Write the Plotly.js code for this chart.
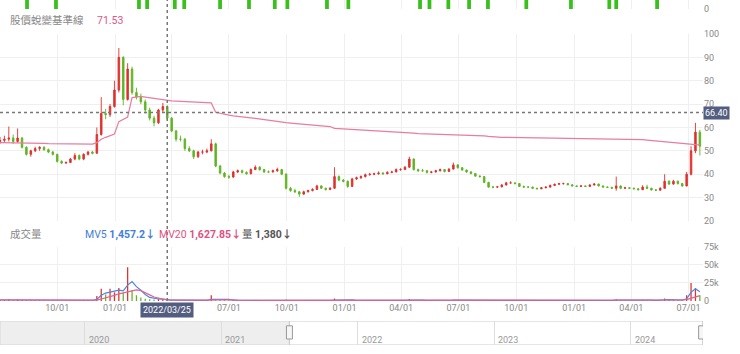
<!DOCTYPE html>
<html><head><meta charset="utf-8">
<script src="https://cdn.plot.ly/plotly-3.0.1.min.js"></script>
<style>html,body{margin:0;padding:0;background:#fff;}#chart{width:740px;height:354px;}</style>
</head><body><div id="chart"></div>
<script>
// ---- DATA (weekly samples) ----
const dates = [
'2021-07-02','2021-07-09','2021-07-16','2021-07-23','2021-07-30','2021-08-06','2021-08-13','2021-08-20','2021-08-27','2021-09-03',
'2021-09-10','2021-09-17','2021-09-24','2021-10-01','2021-10-08','2021-10-15','2021-10-22','2021-10-29','2021-11-05','2021-11-12',
'2021-11-19','2021-11-26','2021-12-03','2021-12-10','2021-12-17','2021-12-24','2021-12-31',
'2022-01-07','2022-01-14','2022-01-21','2022-01-28','2022-02-04','2022-02-11','2022-02-18','2022-02-25','2022-03-04','2022-03-11',
'2022-03-18','2022-03-25','2022-04-01','2022-04-08','2022-04-15','2022-04-22','2022-04-29','2022-05-06','2022-05-13','2022-05-20',
'2022-05-27','2022-06-03','2022-06-10','2022-06-17','2022-06-24','2022-07-01','2022-07-08','2022-07-15','2022-07-22','2022-07-29',
'2022-08-05','2022-08-12','2022-08-19','2022-08-26','2022-09-02','2022-09-09','2022-09-16','2022-09-23','2022-09-30','2022-10-07',
'2022-10-14','2022-10-21','2022-10-28','2022-11-04','2022-11-11','2022-11-18','2022-11-25','2022-12-02','2022-12-09','2022-12-16',
'2022-12-23','2022-12-30',
'2023-01-06','2023-01-13','2023-01-20','2023-01-27','2023-02-03','2023-02-10','2023-02-17','2023-02-24','2023-03-03','2023-03-10',
'2023-03-17','2023-03-24','2023-03-31','2023-04-07','2023-04-14','2023-04-21','2023-04-28','2023-05-05','2023-05-12','2023-05-19',
'2023-05-26','2023-06-02','2023-06-09','2023-06-16','2023-06-23','2023-06-30','2023-07-07','2023-07-14','2023-07-21','2023-07-28',
'2023-08-04','2023-08-11','2023-08-18','2023-08-25','2023-09-01','2023-09-08','2023-09-15','2023-09-22','2023-09-29','2023-10-06',
'2023-10-13','2023-10-20','2023-10-27','2023-11-03','2023-11-10','2023-11-17','2023-11-24','2023-12-01','2023-12-08','2023-12-15',
'2023-12-22','2023-12-29',
'2024-01-05','2024-01-12','2024-01-19','2024-01-26','2024-02-02','2024-02-09','2024-02-16','2024-02-23','2024-03-01','2024-03-08',
'2024-03-15','2024-03-22','2024-03-29','2024-04-05','2024-04-12','2024-04-19','2024-04-26','2024-05-03','2024-05-10','2024-05-17',
'2024-05-24','2024-05-31','2024-06-07','2024-06-14','2024-06-21','2024-06-28','2024-07-05','2024-07-12','2024-07-19'
];
const openP = [
54.0,54.5,55.0,55.5,54.0,55.5,51.5,48.5,50.0,51.0,
51.5,50.5,49.5,48.5,45.5,44.8,45.0,46.5,48.0,46.5,
48.5,49.5,49.0,57.0,66.0,65.5,69.0,76.0,90.0,72.0,
85.0,75.0,73.0,71.0,67.5,64.0,62.0,67.5,69.0,64.0,
58.5,55.0,55.0,51.0,50.0,47.5,49.5,49.5,50.0,53.0,
43.5,40.5,39.0,38.8,41.0,41.5,40.8,40.2,42.0,43.0,
42.0,41.0,41.0,41.5,42.0,40.0,34.0,33.0,32.5,31.5,
32.5,33.0,33.5,35.0,34.0,33.5,34.0,39.0,37.5,37.0,
34.8,38.0,38.5,39.0,39.8,40.0,40.2,40.5,40.2,40.8,
41.0,42.0,42.0,43.0,46.5,42.0,41.5,41.5,40.8,41.0,
41.5,42.0,41.2,42.2,44.0,42.8,41.8,41.0,40.3,39.2,
39.0,36.5,34.5,34.5,34.6,35.4,36.3,36.3,36.0,34.8,
34.5,34.5,34.0,33.8,34.2,34.5,35.2,35.7,36.0,36.0,
35.5,35.0,34.8,35.0,34.8,35.4,35.8,35.0,34.5,34.4,
34.0,35.0,34.0,34.2,34.0,33.8,33.4,34.5,34.0,33.3,
33.2,34.0,37.0,35.8,37.0,36.0,35.0,40.0,50.0,58.0
];
const highP = [
56.0,56.5,60.4,57.0,59.6,56.0,52.0,50.5,51.8,52.0,
52.0,51.0,50.0,48.8,46.0,45.5,47.0,49.0,48.5,49.0,
50.0,50.0,60.0,73.0,68.0,70.0,80.0,94.0,90.5,87.5,
86.0,77.0,74.5,72.0,68.5,65.0,68.0,70.5,69.5,64.5,
59.0,56.5,55.5,52.0,50.5,50.0,50.5,51.0,55.0,53.5,
44.0,41.0,39.8,41.5,42.0,42.0,41.2,42.5,43.8,43.5,
42.3,41.6,42.0,42.8,42.3,40.5,34.6,33.8,32.8,33.0,
33.4,34.0,35.5,35.3,34.3,34.5,43.0,39.5,38.0,37.3,
38.5,39.0,39.5,40.3,40.6,40.7,41.2,40.9,41.3,41.5,
42.5,42.6,43.5,47.5,46.8,42.4,42.3,41.8,41.4,41.9,
42.4,42.2,42.6,45.0,44.3,43.1,42.0,41.3,40.5,39.6,
39.2,36.8,35.0,35.0,35.8,36.8,37.0,36.6,36.2,35.1,
34.9,34.7,34.2,34.5,34.8,35.6,36.0,36.3,36.4,36.2,
35.7,35.2,35.3,35.2,35.7,36.2,36.0,35.2,34.8,34.6,
39.0,35.2,34.6,34.5,34.3,34.0,35.3,35.5,34.2,33.6,
34.4,40.0,37.4,37.6,37.3,36.3,41.0,52.0,62.0,59.0
];
const lowP = [
53.0,53.5,54.0,53.0,53.5,51.0,48.0,47.5,49.5,50.0,
50.0,49.0,48.0,45.0,44.3,44.5,44.8,46.0,46.0,46.0,
48.0,48.5,48.8,56.5,63.5,64.5,68.5,75.0,69.5,71.5,
74.0,72.0,70.0,66.0,63.0,60.5,61.5,66.5,63.0,58.0,
54.0,54.0,50.0,49.5,46.5,47.0,48.5,49.0,49.8,43.0,
40.0,38.5,38.0,38.5,40.5,40.3,39.8,40.0,41.8,41.5,
40.6,40.5,40.7,41.0,39.6,33.5,32.5,32.0,30.3,31.2,
32.2,32.7,33.3,33.7,33.0,33.2,33.8,37.0,36.5,34.2,
34.5,37.6,38.0,38.6,39.4,39.6,39.8,39.8,40.0,40.4,
40.8,41.5,41.8,42.8,41.6,41.0,41.1,40.3,40.4,40.7,
41.2,40.8,41.0,42.0,42.4,41.5,40.6,40.0,38.9,38.6,
36.2,34.2,34.0,34.2,34.4,35.2,36.0,35.7,34.5,34.2,
34.2,33.7,33.5,33.6,34.0,34.3,35.0,35.5,35.6,35.3,
34.8,34.5,34.6,34.5,34.6,35.2,34.8,34.3,34.1,33.7,
33.0,33.6,33.8,33.7,33.5,33.1,33.2,33.8,33.0,32.8,
33.0,33.8,35.4,35.5,35.6,34.6,34.8,39.5,49.0,48.0
];
const closeP = [
54.5,55.0,55.5,54.0,55.5,51.5,48.5,50.0,51.0,51.5,
50.5,49.5,48.5,45.5,44.8,45.0,46.5,48.0,46.5,48.5,
49.5,49.0,57.0,66.0,65.5,69.0,76.0,90.0,72.0,85.0,
75.0,73.0,71.0,67.5,64.0,62.0,67.5,69.0,64.0,58.5,
55.0,55.0,51.0,50.0,47.5,49.5,49.5,50.0,53.0,43.5,
40.5,39.0,38.8,41.0,41.5,40.8,40.2,42.0,43.0,42.0,
41.0,41.0,41.5,42.0,40.0,34.0,33.0,32.5,31.5,32.5,
33.0,33.5,35.0,34.0,33.5,34.0,39.0,37.5,37.0,34.8,
38.0,38.5,39.0,39.8,40.0,40.2,40.5,40.2,40.8,41.0,
42.0,42.0,43.0,46.5,42.0,41.5,41.5,40.8,41.0,41.5,
42.0,41.2,42.2,44.0,42.8,41.8,41.0,40.3,39.2,39.0,
36.5,34.5,34.5,34.6,35.4,36.3,36.3,36.0,34.8,34.5,
34.5,34.0,33.8,34.2,34.5,35.2,35.7,36.0,36.0,35.5,
35.0,34.8,35.0,34.8,35.4,35.8,35.0,34.5,34.4,34.0,
35.0,34.0,34.2,34.0,33.8,33.4,34.5,34.0,33.3,33.2,
34.0,37.0,35.8,37.0,36.0,35.0,40.0,50.0,58.0,52.0
];
// 股價蛻變基準線
const baseline = [
53.5,53.5,53.4,53.4,53.4,53.3,53.3,53.3,53.2,53.2,
53.2,53.1,53.1,53.1,53.1,53.0,53.0,53.0,53.0,52.9,
52.9,52.9,53.5,55.0,55.8,56.5,57.2,62.5,63.6,64.5,
72.8,73.2,73.3,73.0,72.7,72.4,72.1,71.8,71.53,71.4,
71.3,71.2,71.1,71.0,70.9,70.8,70.7,70.6,70.5,66.5,
66.0,65.6,65.3,65.0,64.7,64.5,64.3,64.1,63.9,63.6,
63.4,63.1,62.9,62.6,62.4,62.1,61.9,61.7,61.5,61.3,
61.1,60.9,60.8,60.6,60.5,60.4,59.6,59.5,59.4,59.3,
59.2,59.1,59.0,58.9,58.8,58.7,58.6,58.5,58.4,58.3,
58.2,58.1,58.0,58.0,57.6,57.4,57.35,57.3,57.25,57.2,
57.15,57.1,57.05,57.0,57.0,56.9,56.8,56.7,56.6,56.5,
56.4,56.2,56.0,55.9,55.8,55.78,55.75,55.73,55.7,55.68,
55.65,55.63,55.6,55.58,55.55,55.53,55.5,55.48,55.45,55.43,
55.4,55.38,55.36,55.34,55.32,55.3,55.3,55.25,55.2,55.15,
55.1,55.05,55.0,54.95,54.9,54.85,54.8,54.6,54.4,54.2,
54.0,53.8,53.6,53.4,53.2,53.0,52.85,52.7,52.65,52.6
];
const volume = [
1500,1300,2800,1200,2500,1400,1300,1000,900,1100,
900,800,900,1200,900,700,800,1000,800,900,
1000,1200,7000,17000,9000,17000,12000,18000,11000,47000,
15000,8000,5000,3000,2500,2000,3000,2500,1380,1200,
1300,1000,1100,900,1000,800,900,1000,8000,2500,
1800,1200,1000,1100,900,800,800,1000,1200,900,
800,700,800,900,900,2200,1500,1000,1100,900,
800,800,1000,800,700,700,3500,1500,1000,1100,
1200,900,900,1000,900,800,900,800,900,900,
1000,900,1200,2800,1500,900,800,700,800,800,
900,800,900,1800,1000,800,700,700,800,800,
1200,1000,800,700,800,900,900,700,800,700,
700,700,600,700,700,800,800,700,700,700,
700,600,700,600,800,800,700,600,600,600,
2500,900,700,600,600,600,1200,1500,800,700,
800,3500,1500,1200,1000,900,8000,25000,18000,8000
];
const mv5 = [
1400,1400,1700,1600,1800,1700,1600,1300,1200,1100,
1000,950,950,1000,950,900,850,900,900,950,
950,1050,2300,8000,11000,12000,13000,15000,14000,22000,
27000,20000,15000,9000,5000,3500,2800,2600,1457,1300,
1300,1200,1100,1000,1000,950,900,900,2400,2600,
2700,2600,2300,1200,1000,950,900,900,1000,950,
900,850,800,850,850,1200,1400,1400,1400,1300,
1000,950,900,850,800,750,1400,1600,1700,1600,
1500,1000,950,950,950,900,900,850,850,850,
900,900,950,1400,1600,1500,1300,900,800,800,
800,800,850,1100,1300,1200,1000,800,750,750,
850,900,900,800,750,800,850,800,780,750,
700,700,650,650,700,750,780,750,720,700,
700,650,650,650,700,750,750,680,620,600,
1100,1200,1100,800,650,600,800,1000,1100,900,
800,1500,1900,2000,1500,1200,3000,12000,17000,13000
];
const mv20 = [
1500,1500,1600,1600,1700,1700,1700,1600,1500,1400,
1300,1200,1100,1000,1000,950,950,900,900,900,
900,950,1300,2800,4300,6000,7800,10000,11500,13500,
15000,15500,14500,12000,8500,5500,3700,2600,1628,1500,
1400,1350,1300,1200,1100,1000,950,950,1300,1600,
1800,1900,1900,1700,1300,1100,1000,950,950,950,
950,900,900,900,850,950,1100,1200,1250,1250,
1150,1000,950,900,850,850,1000,1200,1300,1300,
1300,1200,1100,950,950,950,900,900,900,880,
880,880,900,1000,1150,1250,1250,1150,950,850,
830,820,820,900,1000,1050,1050,950,850,800,
820,850,870,860,830,820,820,810,800,780,
760,740,720,700,700,710,730,740,740,730,
720,700,690,680,680,700,720,720,700,680,
750,850,950,950,850,750,750,800,850,850,
850,1000,1300,1600,1700,1600,2000,4000,6000,7500
];
// bottom of the panel above (cut off in the reference)
const topDates = ['2021-08-14','2021-09-29','2022-02-08','2022-02-21','2022-04-06','2022-04-21','2022-06-17','2022-08-02',
'2022-09-12','2022-10-02','2022-12-04','2023-01-07','2023-05-01','2023-05-16','2023-06-15','2023-07-18','2023-08-17',
'2023-10-17','2023-12-27','2024-02-26','2024-03-08','2024-05-12'];
const topVals = [14,14,14,12,14,14,14,12,14,14,14,12,14,14,12,14,14,12,14,12,14,14];
const priceTicks = [20,30,40,50,60,70,80,90,100];
const volTickVals = [0,25000,50000,75000];
const volTickText = ['0','25k','50k','75k'];
const xTickVals = ['2021-10-01','2022-01-01','2022-04-01','2022-07-01','2022-10-01','2023-01-01','2023-04-01',
  '2023-07-01','2023-10-01','2024-01-01','2024-04-01','2024-07-01'];
const xTickText = ['10/01','01/01','','07/01','10/01','01/01','04/01','07/01','10/01','01/01','04/01','07/01'];
const navYears = ['2020','2021','2022','2023','2024'];
const navYearDates = ['2020-01-01','2021-01-01','2022-01-01','2023-01-01','2024-01-01'];
const crossDate = '2022-03-25';
const crossPrice = 66.40;
const readouts = {baseline:'71.53', mv5:'1,457.2↓', mv20:'1,627.85↓', vol:'1,380↓'};
const navWindow = ['2021-07-02','2024-07-11'];
const navRange = ['2019-05-20','2024-07-12'];
const mainRange = ['2021-07-02','2024-07-24'];

// ---- CHART ----
const fontStack = 'Roboto, "Noto Sans CJK TC", sans-serif';
const upColor = '#e0302c', downColor = '#5fb423';
const volColors = closeP.map((c,i)=> c>=openP[i] ? upColor : downColor);
const DAY = 86400000;

const traces = [
  {type:'bar', x:topDates, y:topVals, xaxis:'x', yaxis:'y3', marker:{color:'#39c01c'}, width:6*DAY, hoverinfo:'skip'},
  {type:'candlestick', x:dates, open:openP, high:highP, low:lowP, close:closeP, xaxis:'x', yaxis:'y',
   increasing:{line:{color:upColor,width:0.9}, fillcolor:upColor},
   decreasing:{line:{color:downColor,width:0.9}, fillcolor:downColor}, hoverinfo:'skip'},
  {type:'scatter', mode:'lines', x:dates, y:baseline, xaxis:'x', yaxis:'y', line:{color:'#e77d9f', width:1.2}, hoverinfo:'skip'},
  {type:'bar', x:dates, y:volume, xaxis:'x', yaxis:'y2', marker:{color:volColors}, width:2*DAY, hoverinfo:'skip'},
  {type:'scatter', mode:'lines', x:dates, y:mv5, xaxis:'x', yaxis:'y2', line:{color:'#4d84df', width:1.2}, hoverinfo:'skip'},
  {type:'scatter', mode:'lines', x:dates, y:mv20, xaxis:'x', yaxis:'y2', line:{color:'#e4618d', width:1.2}, hoverinfo:'skip'},
  {type:'scatter', mode:'lines', x:navWindow, y:[0,0], xaxis:'x2', yaxis:'y4', line:{width:0, color:'rgba(0,0,0,0)'}, hoverinfo:'skip'}
];

const tickFont = {family:fontStack, size:9, color:'#888'};
const navAnnotations = navYears.map((t,i)=>({xref:'x2', yref:'paper', x:navYearDates[i], y:0.0395, xanchor:'left', yanchor:'middle',
  xshift:2, showarrow:false, text:t, font:{family:fontStack, size:9, color:'#999'}}));

const layout = {
  width:740, height:354, margin:{l:0, r:37, t:0, b:0},
  paper_bgcolor:'#ffffff', plot_bgcolor:'#ffffff', showlegend:false, hovermode:false, boxgap:0.5,
  font:{family:fontStack, size:9, color:'#888'},
  xaxis:{type:'date', domain:[0,1], range:mainRange, anchor:'y2', tickvals:xTickVals, ticktext:xTickText,
    showgrid:true, gridcolor:'#efefef', ticks:'', zeroline:false, showline:false, rangeslider:{visible:false}, tickfont:tickFont},
  yaxis:{domain:[0.3757,0.904], range:[20,100], side:'right', anchor:'x', tickvals:priceTicks,
    gridcolor:'#efefef', zeroline:false, ticks:'', showline:false, tickfont:tickFont},
  yaxis2:{domain:[0.1497,0.3023], range:[0,75000], side:'right', anchor:'x', tickvals:volTickVals, ticktext:volTickText,
    gridcolor:'#efefef', zeroline:false, ticks:'', showline:false, tickfont:tickFont},
  yaxis3:{domain:[0.9746,1], range:[0,10], side:'right', anchor:'x', tickvals:[0], ticktext:['0'],
    gridcolor:'#efefef', zeroline:false, ticks:'', showline:false, tickfont:tickFont},
  xaxis2:{type:'date', domain:[0,1], anchor:'y4', range:navRange, tickvals:navYearDates, showticklabels:false,
    showgrid:true, gridcolor:'#dddddd', ticks:'', zeroline:false, showline:false},
  yaxis4:{domain:[0.0254,0.0932], range:[0,1], anchor:'x2', showticklabels:false, showgrid:false, zeroline:false},
  shapes:[
    {type:'rect', xref:'x2', yref:'y4', x0:navRange[0], x1:navWindow[0], y0:0, y1:1, fillcolor:'#eeeeee', line:{color:'#d6d6d6', width:1}, layer:'below'},
    {type:'rect', xref:'x2', yref:'y4', x0:navWindow[0], x1:navWindow[1], y0:0, y1:1, fillcolor:'rgba(0,0,0,0)', line:{color:'#cccccc', width:1}, layer:'below'},
    {type:'rect', xref:'x2', yref:'y4', xsizemode:'pixel', xanchor:navWindow[0], x0:-3, x1:3, y0:0.25, y1:0.8, fillcolor:'#f6f6f6', line:{color:'#999', width:1}},
    {type:'rect', xref:'x2', yref:'y4', xsizemode:'pixel', xanchor:navWindow[1], x0:-4, x1:2, y0:0.25, y1:0.8, fillcolor:'#f6f6f6', line:{color:'#999', width:1}},
    {type:'line', xref:'x', yref:'paper', x0:crossDate, x1:crossDate, y0:0.1497, y1:1, line:{color:'#777', width:1.5, dash:'dot'}},
    {type:'line', xref:'paper', yref:'y', x0:0, x1:1, y0:crossPrice, y1:crossPrice, line:{color:'#777', width:1.5, dash:'dot'}}
  ],
  annotations:[
    {xref:'paper', yref:'paper', x:0.0114, y:0.9435, xanchor:'left', yanchor:'middle', showarrow:false,
     text:'股價蛻變基準線', font:{family:fontStack, size:10.5, color:'#888'}},
    {xref:'paper', yref:'paper', x:0.135, y:0.9435, xanchor:'left', yanchor:'middle', showarrow:false,
     text:readouts.baseline, font:{family:fontStack, size:10.5, color:'#d9588a'}},
    {xref:'paper', yref:'paper', x:0.0114, y:0.3362, xanchor:'left', yanchor:'middle', showarrow:false,
     text:'成交量', font:{family:fontStack, size:10.5, color:'#888'}},
    {xref:'paper', yref:'paper', x:0.118, y:0.3362, xanchor:'left', yanchor:'middle', showarrow:false,
     text:'MV5 <b>'+readouts.mv5+'</b>', font:{family:fontStack, size:10.5, color:'#3f7ede'}},
    {xref:'paper', yref:'paper', x:0.2233, y:0.3362, xanchor:'left', yanchor:'middle', showarrow:false,
     text:'MV20 <b>'+readouts.mv20+'</b>', font:{family:fontStack, size:10.5, color:'#e0517f'}},
    {xref:'paper', yref:'paper', x:0.3414, y:0.3362, xanchor:'left', yanchor:'middle', showarrow:false,
     text:'量 <b>'+readouts.vol+'</b>', font:{family:fontStack, size:10.5, color:'#555'}},
    {xref:'x', yref:'paper', x:crossDate, y:0.1243, xanchor:'center', yanchor:'middle', showarrow:false,
     text:crossDate.replace(/-/g,'/'), bgcolor:'#535d7f', borderpad:2, font:{family:fontStack, size:9, color:'#ffffff'}},
    {xref:'paper', yref:'y', x:1, y:crossPrice, xanchor:'left', yanchor:'middle', showarrow:false,
     text:crossPrice.toFixed(2), bgcolor:'#535d7f', borderpad:1, font:{family:fontStack, size:9, color:'#ffffff'}}
  ].concat(navAnnotations)
};
Plotly.newPlot('chart', traces, layout, {staticPlot:true, displayModeBar:false});
</script>
</body></html>
